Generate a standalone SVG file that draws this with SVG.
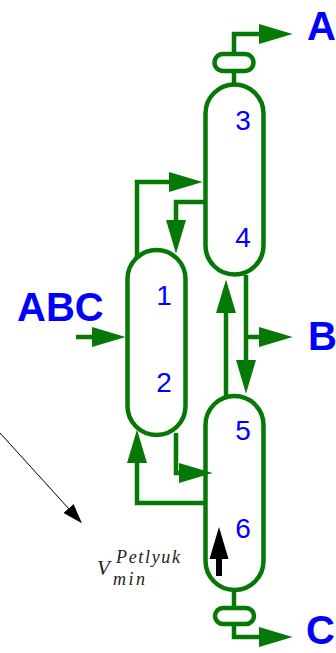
<svg xmlns="http://www.w3.org/2000/svg" width="336" height="653" viewBox="0 0 336 653">
<style>
.eq{fill:none;stroke:#067806;stroke-width:4.5}
.pipe{fill:none;stroke:#067806;stroke-width:4.5}
.num{font-family:"Liberation Sans",Arial,sans-serif;font-size:28px;fill:#0000ff;text-anchor:middle}
.lbl{font-family:"Liberation Sans",Arial,sans-serif;font-size:40px;font-weight:bold;fill:#0000ff}
.math{font-family:"Liberation Serif","Times New Roman",serif;font-style:italic;fill:#222}
</style>
<defs>
<marker id="ah" markerUnits="userSpaceOnUse" markerWidth="34" markerHeight="22" viewBox="0 0 32 19" refX="22" refY="9.5" orient="auto">
<path d="M0,0 L32,9.5 L0,19 Z" fill="#067806"/>
</marker>
<marker id="bk" markerUnits="userSpaceOnUse" markerWidth="20" markerHeight="14" viewBox="0 0 18 12" refX="14" refY="6" orient="auto">
<path d="M0,0 L18,6 L0,12 Z" fill="#000"/>
</marker>
</defs>
<g id="connectors">
<path class="pipe" d="M234,54 V34 H282" marker-end="url(#ah)"/>
<path class="pipe" d="M234,71 V86"/>
<path class="pipe" d="M137,258 V182 H192" marker-end="url(#ah)"/>
<path class="pipe" d="M206,202 H176 V243" marker-end="url(#ah)"/>
<path class="pipe" d="M76,337 H115" marker-end="url(#ah)"/>
<path class="pipe" d="M226,397 V290" marker-end="url(#ah)"/>
<path class="pipe" d="M246,275 V383" marker-end="url(#ah)"/>
<path class="pipe" d="M246,337 H282" marker-end="url(#ah)"/>
<path class="pipe" d="M206,503 H137 V440" marker-end="url(#ah)"/>
<path class="pipe" d="M176,433 V473 H202" marker-end="url(#ah)"/>
<path class="pipe" d="M234,590 V608"/>
<path class="pipe" d="M234,624 V637 H282" marker-end="url(#ah)"/>
<line x1="0" y1="433" x2="79" y2="520" stroke="#000" stroke-width="1" marker-end="url(#bk)"/>
</g>
<g id="condenser"><rect class="eq" x="214.5" y="54" width="39" height="17" rx="8.5"/></g>
<g id="column34">
<rect class="eq" x="205.5" y="84.5" width="58" height="190" rx="29"/>
<text class="num" x="243" y="130">3</text>
<text class="num" x="243" y="247">4</text>
</g>
<g id="column12">
<rect class="eq" x="127.5" y="250" width="58" height="185" rx="29"/>
<text class="num" x="164" y="305">1</text>
<text class="num" x="164" y="392">2</text>
</g>
<g id="column56">
<rect class="eq" x="205.5" y="396" width="58" height="194" rx="29"/>
<text class="num" x="243" y="440">5</text>
<text class="num" x="243" y="538">6</text>
<path d="M219,527 L228.5,559 L222,559 L222,576 L216,576 L216,559 L209.5,559 Z" fill="#000"/>
</g>
<g id="reboiler"><rect class="eq" x="215" y="608" width="39" height="16" rx="8"/></g>
<g id="labels">
<text class="lbl" x="307" y="40">A</text>
<text class="lbl" x="308" y="350">B</text>
<text class="lbl" x="306" y="644">C</text>
<text class="lbl" x="17" y="321">ABC</text>
<text class="math" x="97" y="575" font-size="21">V</text>
<text class="math" x="116" y="563" font-size="18" textLength="64" lengthAdjust="spacing">Petlyuk</text>
<text class="math" x="113" y="585" font-size="18" textLength="32" lengthAdjust="spacing">min</text>
</g>
</svg>
